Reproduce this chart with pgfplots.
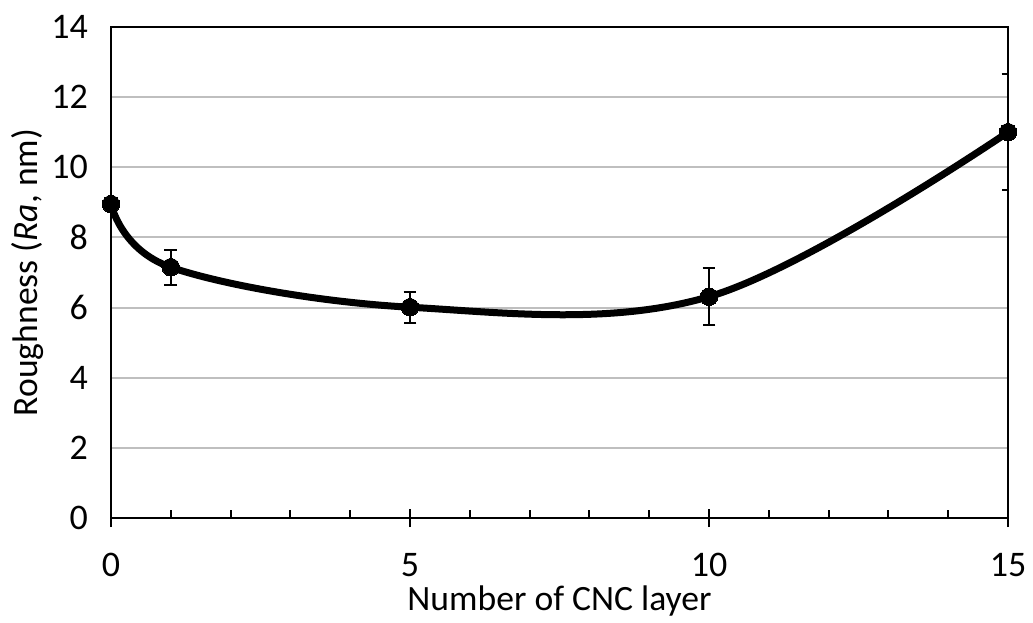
\documentclass[border=0pt]{standalone}
\usepackage{pgfplots}
\pgfplotsset{compat=1.18}
\usepackage{fontspec}
\setmainfont{Carlito}

\begin{document}
\begin{tikzpicture}
\begin{axis}[
	scale only axis,
	width=448.5pt, height=245.5pt,
	xmin=0, xmax=15,
	ymin=0, ymax=14,
	xtick={0,5,10,15},
	minor x tick num=4,
	ytick={0,2,...,14},
	xtick pos=left, ytick pos=left,
	tick align=inside,
	major tick length=9pt,
	minor tick length=4.2pt,
	major x tick style={yshift=-4.5pt, line width=1.2pt, black},
	minor x tick style={line width=1pt, black},
	ytick style={draw=none},
	axis line style={line width=1.2pt, black},
	ymajorgrids,
	grid style={gray!50, line width=1pt},
	/pgf/number format/assume math mode=true,
	tick label style={font=\fontsize{18}{21}\selectfont},
	xticklabel style={yshift=-14pt},
	yticklabel style={xshift=-8pt},
	label style={font=\fontsize{17.8}{21}\selectfont},
	xlabel={Number of CNC layer},
	ylabel={Roughness (\textit{Ra}, nm)},
	xlabel style={at={(axis description cs:0.5,0)}, anchor=base, yshift=-46pt},
	ylabel style={at={(axis description cs:0,0.5)}, anchor=center, yshift=41.5pt},
	clip mode=individual,
]
\addplot[black, line width=3.5pt, smooth, tension=0.6,
	mark=*, mark size=4.4pt, mark options={line width=0pt},
	error bars/.cd, y dir=both, y explicit,
	error bar style={line width=1pt, black},
	error mark options={rotate=90, mark size=3.2pt, line width=1pt, black}]
coordinates {
(0,8.95) +- (0,0)
(1,7.15) +- (0,0.5)
(5,6.01) +- (0,0.44)
(10,6.31) +- (0,0.82)
(15,11.0) +- (0,1.65)
};
\end{axis}
\path (current axis.south west) ++(-55.5pt,-52pt);
\path (current axis.north east) ++(12.5pt,13.5pt);
\end{tikzpicture}
\end{document}
